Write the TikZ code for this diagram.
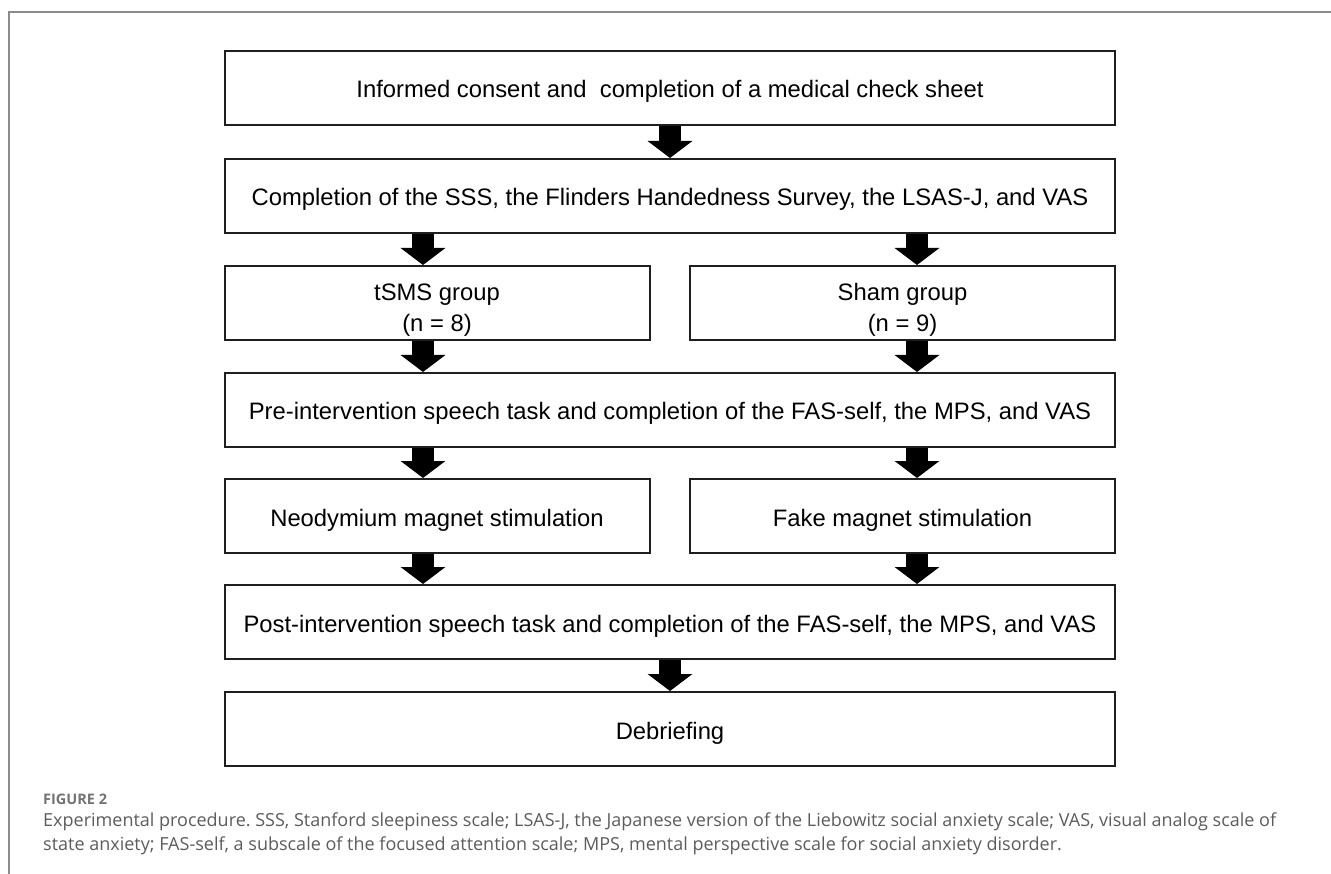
\documentclass[tikz,border=0pt]{standalone}
\usepackage{fontspec}
\setmainfont{Liberation Sans}
\newfontfamily\captionfont{Open Sans}
\usetikzlibrary{arrows.meta, positioning}
\frenchspacing

\definecolor{framegray}{HTML}{8C8C8C}
\definecolor{captiongray}{HTML}{5C5C5C}
\definecolor{labelgray}{HTML}{737373}

\newcommand{\grouppad}{\rule{0pt}{30pt}}

\tikzset{
  stage/.style={draw=black!88, line width=2pt, minimum height=74pt, inner sep=0pt, align=center, font=\fontsize{23.8}{27}\selectfont},
  widestage/.style={stage, minimum width=890pt, text height=21pt, text depth=1pt},
  halfstage/.style={stage, minimum width=425pt},
  flow/.style={line width=22pt, -{Triangle[width=44pt,length=17pt]}},
}

\begin{document}
\begin{tikzpicture}[x=1pt, y=1pt]
\useasboundingbox (0,0) rectangle (1331,-874);
\draw[framegray, line width=1.5pt] (9,-874) -- (9,-12) -- (1331,-12);

\node[widestage] (consent) at (670,-88) {Informed consent and \ completion of a medical check sheet};
\node[widestage] (survey) at (670,-196) {Completion of the SSS, the Flinders Handedness Survey, the LSAS-J, and VAS};
\node[halfstage] (tsms) at (437,-303) {\grouppad tSMS group\\[4pt](n = 8)};
\node[halfstage] (sham) at (902.5,-303) {\grouppad Sham group\\[4pt](n = 9)};
\node[widestage] (pre) at (670,-410) {Pre-intervention speech task and completion of the FAS-self, the MPS, and VAS};
\node[halfstage, text height=21pt, text depth=1pt] (neo) at (437,-516) {Neodymium magnet stimulation};
\node[halfstage, text height=21pt, text depth=1pt] (fake) at (902.5,-516) {Fake magnet stimulation};
\node[widestage] (post) at (670,-622) {Post-intervention speech task and completion of the FAS-self, the MPS, and VAS};
\node[widestage] (debrief) at (670,-729) {Debriefing};

\coordinate (leftlane) at (423,0);
\coordinate (rightlane) at (917,0);

\draw[flow] (consent) -- (survey);
\draw[flow] (survey.south -| leftlane) -- (tsms.north -| leftlane);
\draw[flow] (survey.south -| rightlane) -- (sham.north -| rightlane);
\draw[flow] (tsms.south -| leftlane) -- (pre.north -| leftlane);
\draw[flow] (sham.south -| rightlane) -- (pre.north -| rightlane);
\draw[flow] (pre.south -| leftlane) -- (neo.north -| leftlane);
\draw[flow] (pre.south -| rightlane) -- (fake.north -| rightlane);
\draw[flow] (neo.south -| leftlane) -- (post.north -| leftlane);
\draw[flow] (fake.south -| rightlane) -- (post.north -| rightlane);
\draw[flow] (post) -- (debrief);

\node[anchor=base west, inner sep=0pt, text=labelgray, font=\captionfont\bfseries\fontsize{14.5}{17}\selectfont] (figlabel) at (43,-804) {FIGURE 2};
\node[anchor=base west, inner sep=0pt, text=captiongray, font=\captionfont\fontsize{18}{24}\selectfont] (captionA) at (43,-826) {Experimental procedure. SSS, Stanford sleepiness scale; LSAS-J, the Japanese version of the Liebowitz social anxiety scale; VAS, visual analog scale of};
\node[anchor=base west, inner sep=0pt, text=captiongray, font=\captionfont\fontsize{18}{24}\selectfont] (captionB) at (43,-850) {state anxiety; FAS-self, a subscale of the focused attention scale; MPS, mental perspective scale for social anxiety disorder.};

\end{tikzpicture}
\end{document}
